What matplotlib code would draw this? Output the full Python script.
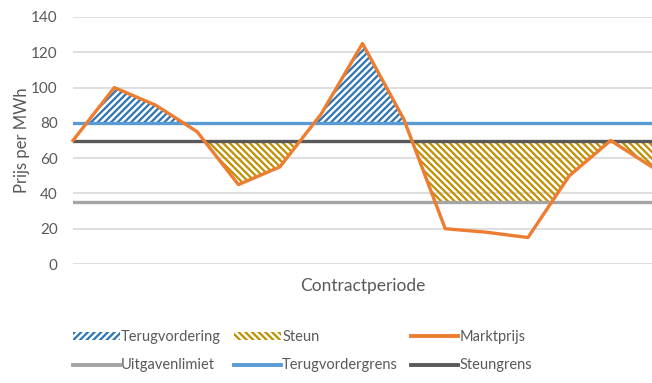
import numpy as np
import matplotlib
matplotlib.use("Agg")
import matplotlib.pyplot as plt
from matplotlib.patches import Rectangle, Patch
from matplotlib.lines import Line2D

plt.rcParams['font.family'] = ['Lato', 'DejaVu Sans']
plt.rcParams['hatch.linewidth'] = 1.6

# data
periods = np.arange(15)
marktprijs = np.array([70, 100, 90, 75, 45, 55, 85, 125, 82, 20, 18, 15, 50, 70, 55])
uitgavenlimiet = 35
terugvordergrens = 80
steungrens = 70
yticks = [0, 20, 40, 60, 80, 100, 120, 140]

c_orange = '#ED7D31'
c_blue = '#5B9BD5'
c_blue_hatch = '#2E75B6'
c_gold = '#BF9000'
c_dark = '#595959'
c_light = '#A5A5A5'
c_text = '#595959'

fig = plt.figure(figsize=(6.52, 3.83), dpi=100)
ax = fig.add_axes([73/652, 1-264/383, (652-73)/652, (264-17)/383])

ax.set_xlim(periods[0], periods[-1])
ax.set_ylim(0, 140)
ax.set_yticks(yticks)
ax.set_xticks([])
ax.grid(axis='y', color='#D9D9D9', linewidth=1.2)
ax.set_axisbelow(True)
for s in ax.spines.values():
    s.set_visible(False)
ax.tick_params(axis='y', length=0, pad=11, labelsize=11, labelcolor=c_text)

# terugvordering: above 80
fb = ax.fill_between(periods, marktprijs, terugvordergrens, facecolor='none',
                     edgecolor=c_blue_hatch, hatch='/////', linewidth=0)
fb.set_clip_path(Rectangle((periods[0], terugvordergrens), periods[-1], 200,
                           transform=ax.transData))
# steun: between 35 and 70
fs = ax.fill_between(periods, marktprijs, steungrens, facecolor='none',
                     edgecolor=c_gold, hatch='\\\\\\\\\\', linewidth=0)
fs.set_clip_path(Rectangle((periods[0], uitgavenlimiet), periods[-1],
                           steungrens - uitgavenlimiet, transform=ax.transData))

ax.axhline(uitgavenlimiet, color=c_light, linewidth=2.4)
ax.axhline(terugvordergrens, color=c_blue, linewidth=2.4)
ax.axhline(steungrens, color=c_dark, linewidth=2.4)
ax.plot(periods, marktprijs, color=c_orange, linewidth=2.4, clip_on=False)

ax.set_xlabel('Contractperiode', fontsize=12.5, color=c_text, labelpad=10)
ax.set_ylabel('Prijs per MWh', fontsize=12, color=c_text, labelpad=1)

handles = [
    Patch(facecolor='none', edgecolor=c_blue_hatch, hatch='/////', linewidth=0),
    Patch(facecolor='none', edgecolor=c_gold, hatch='\\\\\\\\\\', linewidth=0),
    Line2D([], [], color=c_orange, linewidth=2.8),
    Line2D([], [], color=c_light, linewidth=2.8),
    Line2D([], [], color=c_blue, linewidth=2.8),
    Line2D([], [], color=c_dark, linewidth=2.8),
]
labels = ['Terugvordering', 'Steun', 'Marktprijs',
          'Uitgavenlimiet', 'Terugvordergrens', 'Steungrens']
# reorder for row-wise filling with ncol=3
order = [0, 3, 1, 4, 2, 5]
leg = fig.legend([handles[i] for i in order], [labels[i] for i in order],
                 ncol=3, loc='upper left', bbox_to_anchor=(67/652, 1-324/383),
                 frameon=False, fontsize=10.5, handlelength=3.2, handleheight=0.5,
                 handletextpad=0.1, columnspacing=0.9, labelspacing=1.0,
                 labelcolor=c_text, borderaxespad=0)

fig.savefig('out.png', dpi=100)
